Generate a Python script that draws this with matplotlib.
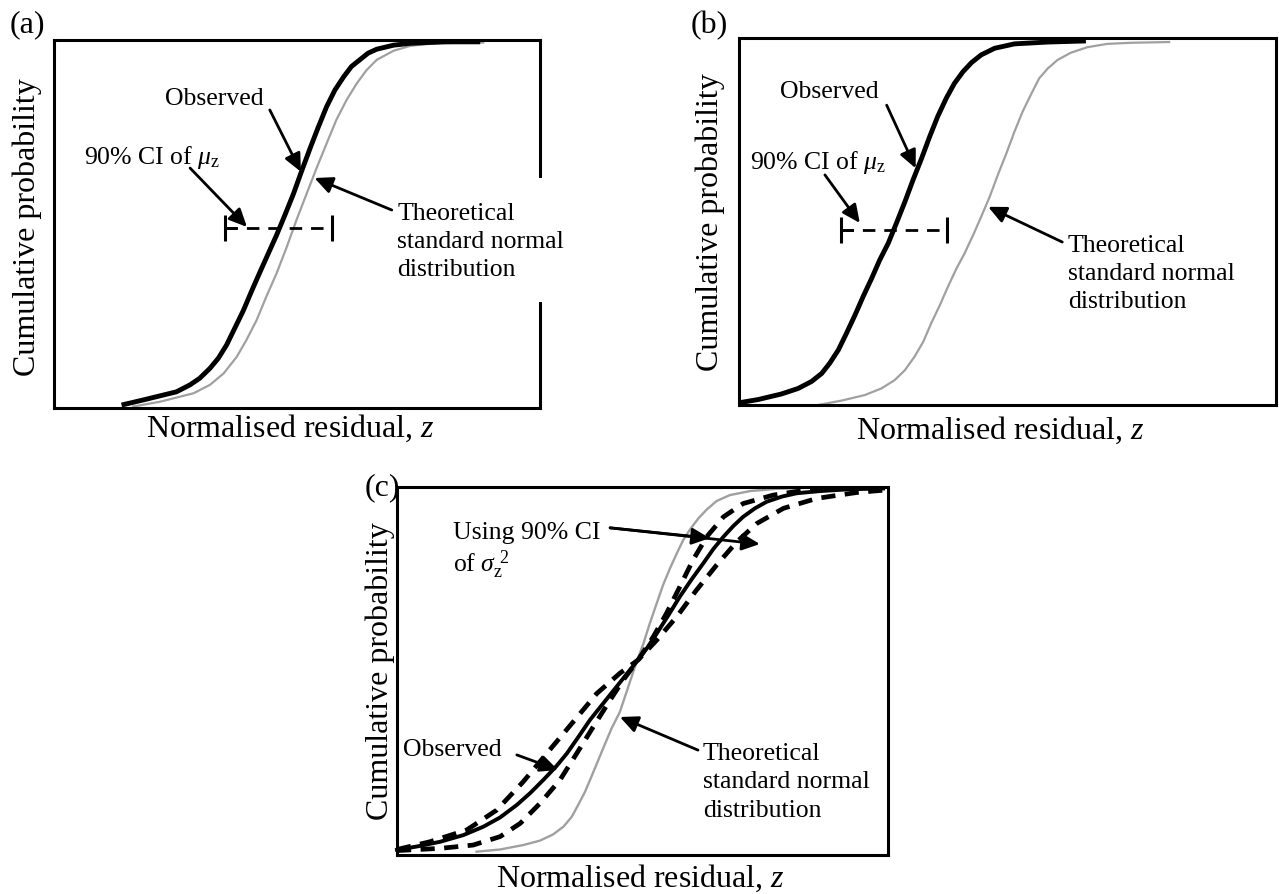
import matplotlib
matplotlib.use("Agg")
import matplotlib.pyplot as plt
from matplotlib.patches import Rectangle

plt.rcParams['font.family'] = ['Liberation Serif', 'DejaVu Serif']
plt.rcParams['mathtext.fontset'] = 'custom'
plt.rcParams['mathtext.rm'] = 'Liberation Serif'
plt.rcParams['mathtext.it'] = 'Liberation Serif:italic'

# ---------------- data (x: position across the axis in %, y: cumulative probability) -------------
# Panel (a)
a_obs_x = [13.9, 18.4, 21.8, 25.2, 28.0, 30.0, 32.1, 33.8, 35.5, 37.2, 39.0, 40.6, 42.4, 44.1, 45.8, 47.5,
           49.3, 50.9, 52.7, 54.4, 56.1, 57.8, 59.6, 61.2, 63.0, 64.6, 66.4, 69.9, 73.3, 80.1, 87.7]
a_obs_y = [0.008, 0.022, 0.033, 0.044, 0.063, 0.081, 0.108, 0.135, 0.171, 0.217, 0.266, 0.316, 0.370, 0.420,
           0.470, 0.524, 0.583, 0.642, 0.706, 0.764, 0.819, 0.864, 0.900, 0.928, 0.947, 0.964, 0.975, 0.986,
           0.991, 0.995, 0.995]
a_the_x = [16.3, 21.8, 28.7, 32.1, 34.9, 37.6, 39.6, 41.7, 43.7, 45.8, 47.9, 49.9, 52.0, 54.0, 56.1, 58.1,
           60.2, 62.3, 64.3, 66.4, 69.9, 73.3, 76.7, 83.6, 88.3]
a_the_y = [0.004, 0.017, 0.040, 0.063, 0.094, 0.139, 0.185, 0.239, 0.303, 0.366, 0.438, 0.511, 0.583, 0.651,
           0.719, 0.783, 0.837, 0.882, 0.918, 0.946, 0.971, 0.984, 0.989, 0.993, 0.993]
a_ci = [35.2, 57.2]
a_ci_y = 0.489

# Panel (b)
b_obs_x = [0.0, 3.6, 7.9, 11.0, 13.5, 15.4, 16.9, 18.5, 20.0, 21.6, 23.1, 24.7, 26.2, 27.8, 29.3, 30.9,
           32.4, 34.0, 35.5, 37.0, 38.6, 40.1, 41.7, 43.3, 45.1, 47.6, 51.3, 57.5, 64.6]
b_obs_y = [0.006, 0.015, 0.030, 0.045, 0.064, 0.086, 0.114, 0.150, 0.195, 0.245, 0.295, 0.345, 0.395, 0.441,
           0.495, 0.554, 0.613, 0.672, 0.731, 0.786, 0.836, 0.876, 0.908, 0.933, 0.954, 0.972, 0.984, 0.989,
           0.992]
b_the_x = [14.7, 19.1, 23.4, 26.5, 29.0, 30.9, 32.7, 34.3, 35.8, 37.4, 38.9, 40.5, 42.0, 43.6, 45.1, 46.7,
           48.2, 49.8, 51.3, 52.8, 54.4, 55.9, 57.5, 59.3, 61.8, 64.9, 68.6, 73.0, 80.1]
b_the_y = [0.0, 0.012, 0.027, 0.045, 0.068, 0.095, 0.132, 0.172, 0.223, 0.272, 0.322, 0.372, 0.413, 0.463,
           0.513, 0.568, 0.627, 0.686, 0.745, 0.799, 0.847, 0.890, 0.917, 0.940, 0.960, 0.975, 0.984, 0.987,
           0.989]
b_ci = [19.0, 38.8]
b_ci_y = 0.477

# Panel (c)
c_obs_x = [0.0, 4.0, 8.8, 13.5, 17.6, 21.0, 24.4, 27.1, 29.8, 32.5, 34.6, 36.9, 39.3, 42.0, 44.7, 46.8,
           48.8, 50.9, 52.9, 55.3, 57.6, 60.0, 62.4, 64.4, 66.5, 68.5, 70.5, 72.9, 75.3, 78.4, 81.4, 86.2,
           92.3, 99.0]
c_obs_y = [0.014, 0.023, 0.036, 0.054, 0.077, 0.102, 0.136, 0.168, 0.204, 0.242, 0.276, 0.320, 0.367, 0.412,
           0.457, 0.492, 0.525, 0.562, 0.602, 0.652, 0.702, 0.749, 0.793, 0.831, 0.865, 0.894, 0.919, 0.942,
           0.960, 0.974, 0.983, 0.989, 0.994, 0.996]
c_the_x = [16.2, 21.0, 25.7, 29.1, 31.8, 33.9, 35.6, 36.9, 38.3, 39.6, 41.0, 42.4, 43.7, 45.4, 47.1, 48.8,
           50.2, 51.5, 52.9, 54.2, 55.6, 57.0, 58.3, 59.7, 61.4, 63.1, 65.1, 67.8, 71.9, 77.3, 84.1]
c_the_y = [0.009, 0.015, 0.027, 0.039, 0.056, 0.077, 0.104, 0.136, 0.172, 0.213, 0.258, 0.303, 0.344, 0.389,
           0.457, 0.525, 0.575, 0.630, 0.684, 0.734, 0.779, 0.820, 0.856, 0.885, 0.915, 0.939, 0.962, 0.978,
           0.989, 0.995, 0.998]
c_wide_x = [0.0, 6.7, 14.2, 20.3, 25.7, 30.5, 35.9, 40.7, 45.4, 49.1, 52.9, 57.0, 61.0, 65.1, 69.2, 73.3,
            78.7, 85.5, 93.6, 99.7]
c_wide_y = [0.015, 0.036, 0.068, 0.122, 0.199, 0.276, 0.362, 0.439, 0.494, 0.530, 0.584, 0.648, 0.720, 0.788,
            0.851, 0.901, 0.942, 0.969, 0.985, 0.992]
c_narrow_x = [0.0, 8.8, 15.5, 21.0, 25.1, 29.1, 33.2, 36.6, 40.0, 43.4, 46.1, 49.1, 52.2, 54.9, 57.6, 60.3,
              63.1, 66.5, 70.5, 76.6, 83.4, 90.2]
c_narrow_y = [0.012, 0.018, 0.027, 0.050, 0.086, 0.140, 0.204, 0.276, 0.349, 0.421, 0.476, 0.530, 0.593,
              0.657, 0.729, 0.802, 0.865, 0.919, 0.955, 0.978, 0.992, 0.996]

xlabel = 'Normalised residual, $z$'
ylabel = 'Cumulative probability'
panel_labels = ['(a)', '(b)', '(c)']

GREY = '#a0a0a0'
ANN_FS = 18.5
LAB_FS = 23
W, H = 1279, 894

fig = plt.figure(figsize=(12.79, 8.94), dpi=100)


def px_axes(left, top, right, bottom):
    return fig.add_axes([left / W, 1 - bottom / H, (right - left) / W, (bottom - top) / H])


def fig_text(x, y, s, **kw):
    fig.text(x / W, 1 - y / H, s, **kw)


ax_a = px_axes(54, 40, 540, 408)
ax_b = px_axes(739, 38, 1276, 405)
ax_c = px_axes(397, 487, 888, 855)

for ax in (ax_a, ax_b, ax_c):
    ax.set_xlim(0, 100)
    ax.set_ylim(0, 1)
    ax.set_xticks([])
    ax.set_yticks([])
    for s in ax.spines.values():
        s.set_linewidth(2.2)
        s.set_color('black')

arrow_kw = dict(arrowstyle='-|>,head_length=0.6,head_width=0.28', lw=2.0, color='black',
                mutation_scale=18, shrinkA=0, shrinkB=0)


def annotate(ax, tail, tip):
    ax.annotate('', xy=tip, xytext=tail, xycoords='data', textcoords='data',
                arrowprops=arrow_kw, annotation_clip=False)


def ci_bar(ax, ci, y):
    ax.plot(ci, [y, y], color='black', lw=2.0, dashes=(4.5, 3.2), solid_capstyle='butt')
    ax.plot([ci[0], ci[0] + 2.0], [y, y], color='black', lw=2.0)
    ax.vlines(ci, y - 0.036, y + 0.036, color='black', lw=2.2)


line_kw = dict(clip_on=False, solid_joinstyle='round', dash_joinstyle='round')
theory = 'Theoretical\nstandard normal\ndistribution'

# ---- (a)
ax_a.plot(a_the_x, a_the_y, color=GREY, lw=1.6, **line_kw)
ax_a.plot(a_obs_x, a_obs_y, color='black', lw=3.5, solid_capstyle='butt', **line_kw)
ci_bar(ax_a, a_ci, a_ci_y)
ax_a.text(32.9, 0.840, 'Observed', fontsize=ANN_FS, ha='center', va='center')
annotate(ax_a, (44.4, 0.810), (50.8, 0.642))
ax_a.text(20.2, 0.682, '90% CI of $\\mu_{\\rm z}$', fontsize=ANN_FS, ha='center', va='center')
annotate(ax_a, (28.0, 0.652), (39.7, 0.492))
# white text box of the label hides the right frame where it overlaps
ax_a.add_patch(Rectangle((0.97, 0.288), 0.06, 0.337, transform=ax_a.transAxes, facecolor='white',
                         edgecolor='none', zorder=4, clip_on=False))
ax_a.text(70.6, 0.451, theory, fontsize=ANN_FS, ha='left', va='center', linespacing=1.38, zorder=5)
annotate(ax_a, (69.5, 0.538), (53.6, 0.625))

# ---- (b)
ax_b.plot(b_the_x, b_the_y, color=GREY, lw=1.6, **line_kw)
ax_b.plot(b_obs_x, b_obs_y, color='black', lw=3.5, solid_capstyle='butt', **line_kw)
ci_bar(ax_b, b_ci, b_ci_y)
ax_b.text(16.9, 0.853, 'Observed', fontsize=ANN_FS, ha='center', va='center')
annotate(ax_b, (27.5, 0.817), (32.9, 0.645))
ax_b.text(14.7, 0.662, '90% CI of $\\mu_{\\rm z}$', fontsize=ANN_FS, ha='center', va='center')
annotate(ax_b, (16.0, 0.627), (22.5, 0.496))
ax_b.text(61.2, 0.357, theory, fontsize=ANN_FS, ha='left', va='center', linespacing=1.38)
annotate(ax_b, (60.2, 0.444), (46.4, 0.540))

# ---- (c)
ax_c.plot(c_the_x, c_the_y, color=GREY, lw=1.7, **line_kw)
ax_c.plot(c_wide_x, c_wide_y, color='black', lw=3.4, dashes=(3.0, 2.0), **line_kw)
ax_c.plot(c_narrow_x, c_narrow_y, color='black', lw=3.4, dashes=(3.0, 2.0), **line_kw)
ax_c.plot(c_obs_x, c_obs_y, color='black', lw=2.8, **line_kw)
ax_c.text(11.4, 0.875, 'Using 90% CI', fontsize=ANN_FS, ha='left', va='center')
ax_c.text(11.4, 0.788, 'of $\\sigma_{\\rm z}^{\\ 2}$', fontsize=ANN_FS, ha='left', va='center')
annotate(ax_c, (43.4, 0.889), (63.7, 0.861))
annotate(ax_c, (43.4, 0.889), (73.9, 0.845))
ax_c.text(11.2, 0.285, 'Observed', fontsize=ANN_FS, ha='center', va='center')
annotate(ax_c, (24.4, 0.272), (32.8, 0.231))
ax_c.text(62.3, 0.198, theory, fontsize=ANN_FS, ha='left', va='center', linespacing=1.38)
annotate(ax_c, (61.3, 0.285), (45.4, 0.375))

# ---- axis titles and panel letters
for (xl, yl), (xx, xy) in [((27, 227), (290, 428)), ((710, 222), (1000, 430)), ((380, 671), (640, 878))]:
    fig_text(xl, yl, ylabel, fontsize=LAB_FS, rotation=90, ha='center', va='center')
    fig_text(xx, xy, xlabel, fontsize=LAB_FS, ha='center', va='center')

for lab, (x, y) in zip(panel_labels, [(27, 25), (709, 26), (382, 488)]):
    fig_text(x, y, lab, fontsize=LAB_FS, ha='center', va='center')

fig.savefig('out.png', dpi=100)
